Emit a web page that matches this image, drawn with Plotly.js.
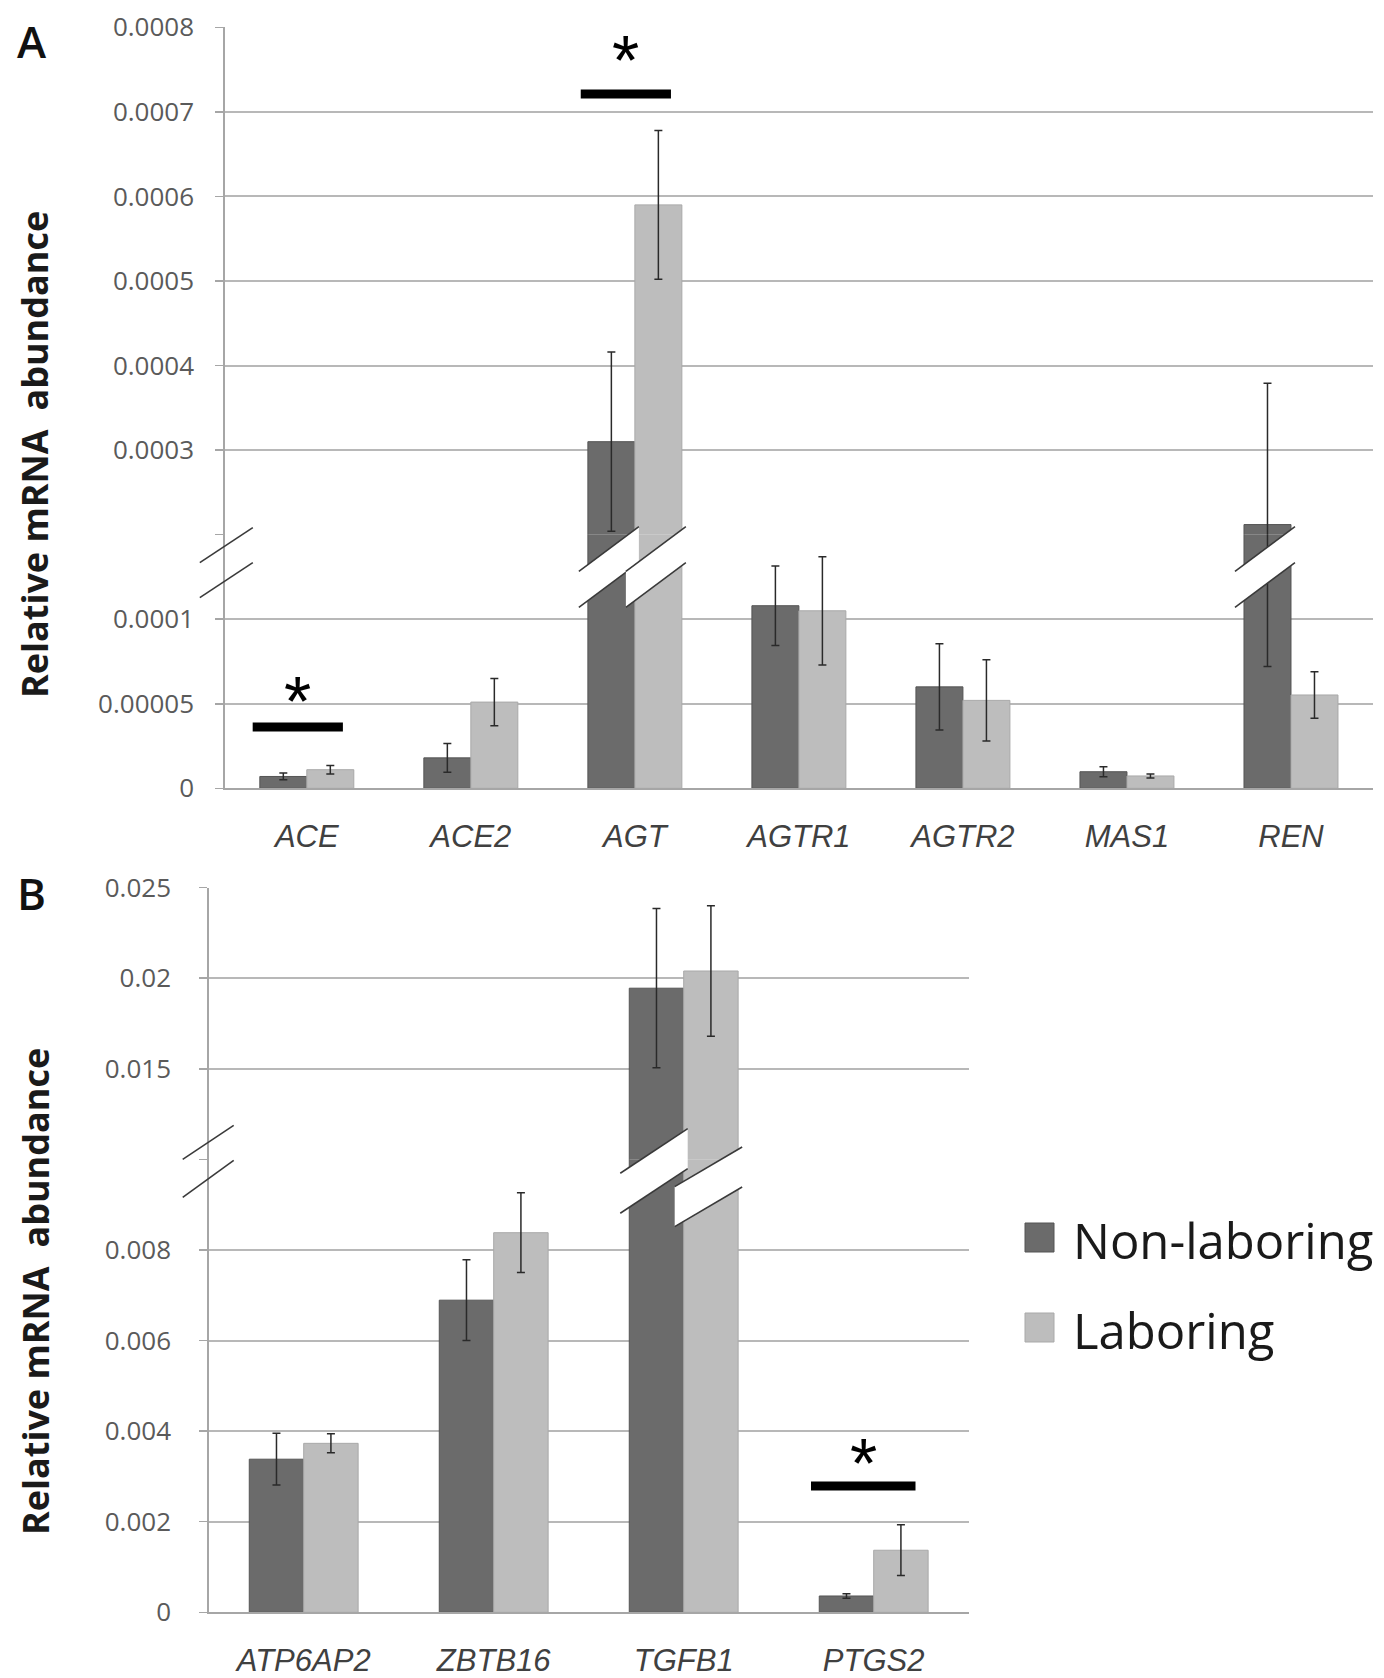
<!DOCTYPE html>
<html>
<head>
<meta charset="utf-8">
<script src="https://cdn.plot.ly/plotly-3.0.1.min.js"></script>
<style>
  html, body { margin: 0; padding: 0; background: #ffffff; }
  #chart { width: 1384px; height: 1678px; }
</style>
</head>
<body>
<div id="chart"></div>
<script>
// ---------------- DATA ----------------
const seriesNames = ['Non-laboring', 'Laboring'];

// Panel A
const genesA = ['ACE', 'ACE2', 'AGT', 'AGTR1', 'AGTR2', 'MAS1', 'REN'];
const nonLaboringA = [0.000007, 0.000018, 0.00031, 0.000108, 0.00006, 0.0000098, 0.000212];
const nonLaboringAErrPlus = [0.000002, 0.0000085, 0.000106, 0.0000235, 0.0000255, 0.000003, 0.000167];
const nonLaboringAErrMinus = [0.000002, 0.0000085, 0.000106, 0.0000235, 0.0000255, 0.000003, 0.00014];
const laboringA = [0.000011, 0.000051, 0.00059, 0.000105, 0.000052, 0.0000073, 0.0000552];
const laboringAErr = [0.0000025, 0.000014, 0.000088, 0.000032, 0.000024, 0.0000012, 0.0000138];

// Panel B
const genesB = ['ATP6AP2', 'ZBTB16', 'TGFB1', 'PTGS2'];
const nonLaboringB = [0.00338, 0.00689, 0.01945, 0.00036];
const nonLaboringBErr = [0.00057, 0.00089, 0.0044, 0.00005];
const laboringB = [0.00373, 0.00838, 0.0204, 0.00137];
const laboringBErr = [0.00021, 0.00088, 0.0036, 0.00056];

// Axis ticks (broken axes: lower and upper segments)
const tickValsALow = [0, 0.00005, 0.0001, 0.00015];
const tickTextALow = ['0', '0.00005', '0.0001', ''];
const tickValsAHigh = [0.0002, 0.0003, 0.0004, 0.0005, 0.0006, 0.0007, 0.0008];
const tickTextAHigh = ['', '0.0003', '0.0004', '0.0005', '0.0006', '0.0007', '0.0008'];
const tickValsBLow = [0, 0.002, 0.004, 0.006, 0.008, 0.010];
const tickTextBLow = ['0', '0.002', '0.004', '0.006', '0.008', ''];
const tickValsBHigh = [0.010, 0.015, 0.020, 0.025];
const tickTextBHigh = ['', '0.015', '0.02', '0.025'];

// Significance marks: gene and level (in data units) of the bar line and star
const sigGenesA = ['ACE', 'AGT'];
const sigLineA = [0.0000363, 0.000721];
const sigStarA = [0.0000611, 0.00078];
const sigGenesB = ['PTGS2'];
const sigLineB = [0.00279];
const sigStarB = [0.00365];

// ---------------- LAYOUT GEOMETRY ----------------
const W = 1384, H = 1678;
const fx = p => p / W;
const fy = p => 1 - p / H;

const BARGAP = 0.427;
const colNon = '#6b6b6b', colNonLine = '#555555';
const colLab = '#bdbdbd', colLabLine = '#a9a9a9';
const gridCol = '#b8b8b8';
const tickFontFamily = 'Open Sans, Noto Sans, sans-serif';

// Panel A pixel frame
const A = { x0: 224.8, x1: 1373, yZero: 788.3, yBreak: 534.7, yTop: 27.3,
            lowMax: 0.00015, highMin: 0.0002, highMax: 0.0008 };
// Panel B pixel frame
const B = { x0: 208.7, x1: 968.7, yZero: 1612.3, yBreak: 1159.3, yTop: 887.7,
            lowMax: 0.010, highMin: 0.010, highMax: 0.025 };

function barTraces(cats, vals, errP, errM, color, lineColor, xa, yLow, yHigh, name) {
  const base = {
    type: 'bar', x: cats, y: vals, name: name, xaxis: xa,
    marker: { color: color, line: { color: lineColor, width: 1 } },
    error_y: { type: 'data', symmetric: false, array: errP, arrayminus: errM,
               color: '#2a2a2a', thickness: 1.5, width: 4 },
    hoverinfo: 'x+y', showlegend: false
  };
  return [Object.assign({}, base, { yaxis: yLow }), Object.assign({}, base, { yaxis: yHigh })];
}

const data = [].concat(
  barTraces(genesA, nonLaboringA, nonLaboringAErrPlus, nonLaboringAErrMinus, colNon, colNonLine, 'x', 'y', 'y2', seriesNames[0]),
  barTraces(genesA, laboringA, laboringAErr, laboringAErr, colLab, colLabLine, 'x', 'y', 'y2', seriesNames[1]),
  barTraces(genesB, nonLaboringB, nonLaboringBErr, nonLaboringBErr, colNon, colNonLine, 'x2', 'y3', 'y4', seriesNames[0]),
  barTraces(genesB, laboringB, laboringBErr, laboringBErr, colLab, colLabLine, 'x2', 'y3', 'y4', seriesNames[1])
);
data.forEach((t, i) => { t.offsetgroup = (Math.floor(i / 2) % 2 === 0) ? 'non' : 'lab'; });

function yAxis(domain, range, vals, text, anchor, standoff) {
  return {
    domain: domain, range: range, anchor: anchor,
    tickmode: 'array', tickvals: vals, ticktext: text,
    showgrid: true, gridcolor: gridCol, gridwidth: 2,
    zeroline: false, showline: true, linecolor: '#a6a6a6', linewidth: 1.5,
    ticks: 'outside', ticklen: 8, tickcolor: '#a6a6a6', tickwidth: 1.5,
    ticklabelstandoff: standoff,
    tickfont: { family: tickFontFamily, size: 26, color: '#5a5a5a' },
    fixedrange: true
  };
}
function xAxis(domain, anchor) {
  return {
    domain: domain, anchor: anchor, type: 'category',
    showgrid: false, zeroline: false, showline: true, linecolor: '#a6a6a6', linewidth: 2,
    ticks: '', ticklabelstandoff: 19,
    tickfont: { family: 'Liberation Sans, Arial, sans-serif', size: 31, color: '#404040', style: 'italic' },
    fixedrange: true
  };
}

// ---------- break decorations ----------
const shapes = [];
function addBands(P, cats, seriesVals, offsets, th) {
  const n = cats.length;
  const catW = (P.x1 - P.x0) / n;
  const barW = catW * (1 - BARGAP) / 2;
  seriesVals.forEach((vals, s) => {
    vals.forEach((v, i) => {
      if (v <= P.lowMax) return;
      const left = P.x0 + (i + 0.5) * catW - barW + s * barW;
      const right = left + barW;
      const o = offsets[s];
      const xl = left - 9, xr = right + 4;
      const slope = (o.r - o.l) / (right - left);
      const tl = P.yBreak + o.l + (xl - left) * slope;
      const tr = P.yBreak + o.l + (xr - left) * slope;
      shapes.push({ type: 'path', xref: 'paper', yref: 'paper', layer: 'above',
        path: `M${fx(xl)},${fy(tl)} L${fx(xr)},${fy(tr)} L${fx(xr)},${fy(tr + th)} L${fx(xl)},${fy(tl + th)} Z`,
        fillcolor: '#ffffff', line: { width: 0 } });
      [0, th].forEach(d => shapes.push({ type: 'line', xref: 'paper', yref: 'paper', layer: 'above',
        x0: fx(xl), y0: fy(tl + d), x1: fx(xr), y1: fy(tr + d),
        line: { color: '#3a3a3a', width: 1.6 } }));
    });
  });
}
addBands(A, genesA, [nonLaboringA, laboringA], [{ l: 30, r: -5 }, { l: 30, r: -5 }], 36);
addBands(B, genesB, [nonLaboringB, laboringB], [{ l: 8, r: -28 }, { l: 22, r: -10 }], 40);

// axis break slashes
function slash(P, dxL, dxR, dyL, dyR) {
  shapes.push({ type: 'line', xref: 'paper', yref: 'paper', layer: 'above',
    x0: fx(P.x0 + dxL), y0: fy(P.yBreak + dyL), x1: fx(P.x0 + dxR), y1: fy(P.yBreak + dyR),
    line: { color: '#3a3a3a', width: 1.6 } });
}
slash(A, -25, 28, 28, -7); slash(A, -25, 28, 63, 28);
slash(B, -26, 25, 0, -34); slash(B, -26, 25, 38, 1);

// significance lines + stars
const annotations = [];
function addSig(genes, cats, lineVals, starVals, xref, yLowRef, yHighRef, lowMax) {
  genes.forEach((g, k) => {
    const i = cats.indexOf(g);
    const yref = lineVals[k] > lowMax ? yHighRef : yLowRef;
    shapes.push({ type: 'line', xref: xref, yref: yref, layer: 'above',
      x0: i - 0.33, x1: i + 0.22, y0: lineVals[k], y1: lineVals[k],
      line: { color: '#000000', width: 9 } });
    annotations.push({ xref: xref, yref: starVals[k] > lowMax ? yHighRef : yLowRef,
      x: i - 0.055, y: starVals[k], text: '*', showarrow: false,
      xanchor: 'center', yanchor: 'middle', yshift: -17,
      font: { family: 'Liberation Sans, Arial, sans-serif', size: 70, color: '#000000' } });
  });
}
addSig(sigGenesA, genesA, sigLineA, sigStarA, 'x', 'y', 'y2', A.lowMax);
addSig(sigGenesB, genesB, sigLineB, sigStarB, 'x2', 'y3', 'y4', B.lowMax);

// panel letters and y titles
const titleFont = { family: 'Open Sans, Noto Sans, sans-serif', size: 36, color: '#1a1a1a', weight: 'bold' };
const letterFont = { family: 'Open Sans, sans-serif', size: 44, color: '#111', weight: 600 };
annotations.push(
  { xref: 'paper', yref: 'paper', x: fx(32), y: fy(41), text: 'A', showarrow: false,
    xanchor: 'center', yanchor: 'middle', font: letterFont },
  { xref: 'paper', yref: 'paper', x: fx(31), y: fy(893), text: 'B', showarrow: false,
    xanchor: 'center', yanchor: 'middle', font: letterFont },
  { xref: 'paper', yref: 'paper', x: fx(35), y: fy(455), text: 'Relative mRNA\u00a0 abundance', showarrow: false,
    textangle: -90, xanchor: 'center', yanchor: 'middle', font: titleFont },
  { xref: 'paper', yref: 'paper', x: fx(35), y: fy(1292), text: 'Relative mRNA\u00a0 abundance', showarrow: false,
    textangle: -90, xanchor: 'center', yanchor: 'middle', font: titleFont }
);

// custom legend (large swatches)
const legendRows = [{ y: 1238, fill: colNon, line: colNonLine }, { y: 1328, fill: colLab, line: colLabLine }];
legendRows.forEach((r, k) => {
  shapes.push({ type: 'rect', xref: 'paper', yref: 'paper', x0: fx(1025), x1: fx(1054),
    y0: fy(r.y - 15), y1: fy(r.y + 14), fillcolor: r.fill, line: { color: r.line, width: 1 } });
  annotations.push({ xref: 'paper', yref: 'paper', x: fx(1071), y: fy(r.y + 2), text: seriesNames[k],
    showarrow: false, xanchor: 'left', yanchor: 'middle',
    font: { family: 'Open Sans, Noto Sans, sans-serif', size: 49, color: '#1a1a1a' } });
});

const layout = {
  width: W, height: H,
  margin: { l: 0, r: 0, t: 0, b: 0 },
  paper_bgcolor: '#ffffff', plot_bgcolor: 'rgba(0,0,0,0)',
  barmode: 'group', bargap: BARGAP, bargroupgap: 0,
  showlegend: false,
  xaxis: xAxis([fx(A.x0), fx(A.x1)], 'y'),
  yaxis: yAxis([fy(A.yZero), fy(A.yBreak)], [0, A.lowMax], tickValsALow, tickTextALow, 'x', 16),
  yaxis2: yAxis([fy(A.yBreak), fy(A.yTop)], [A.highMin, A.highMax], tickValsAHigh, tickTextAHigh, 'x', 16),
  xaxis2: xAxis([fx(B.x0), fx(B.x1)], 'y3'),
  yaxis3: yAxis([fy(B.yZero), fy(B.yBreak)], [0, B.lowMax], tickValsBLow, tickTextBLow, 'x2', 23),
  yaxis4: yAxis([fy(B.yBreak), fy(B.yTop)], [B.highMin, B.highMax], tickValsBHigh, tickTextBHigh, 'x2', 23),
  shapes: shapes,
  annotations: annotations
};

Plotly.newPlot('chart', data, layout, { displayModeBar: false, staticPlot: true });
</script>
</body>
</html>
